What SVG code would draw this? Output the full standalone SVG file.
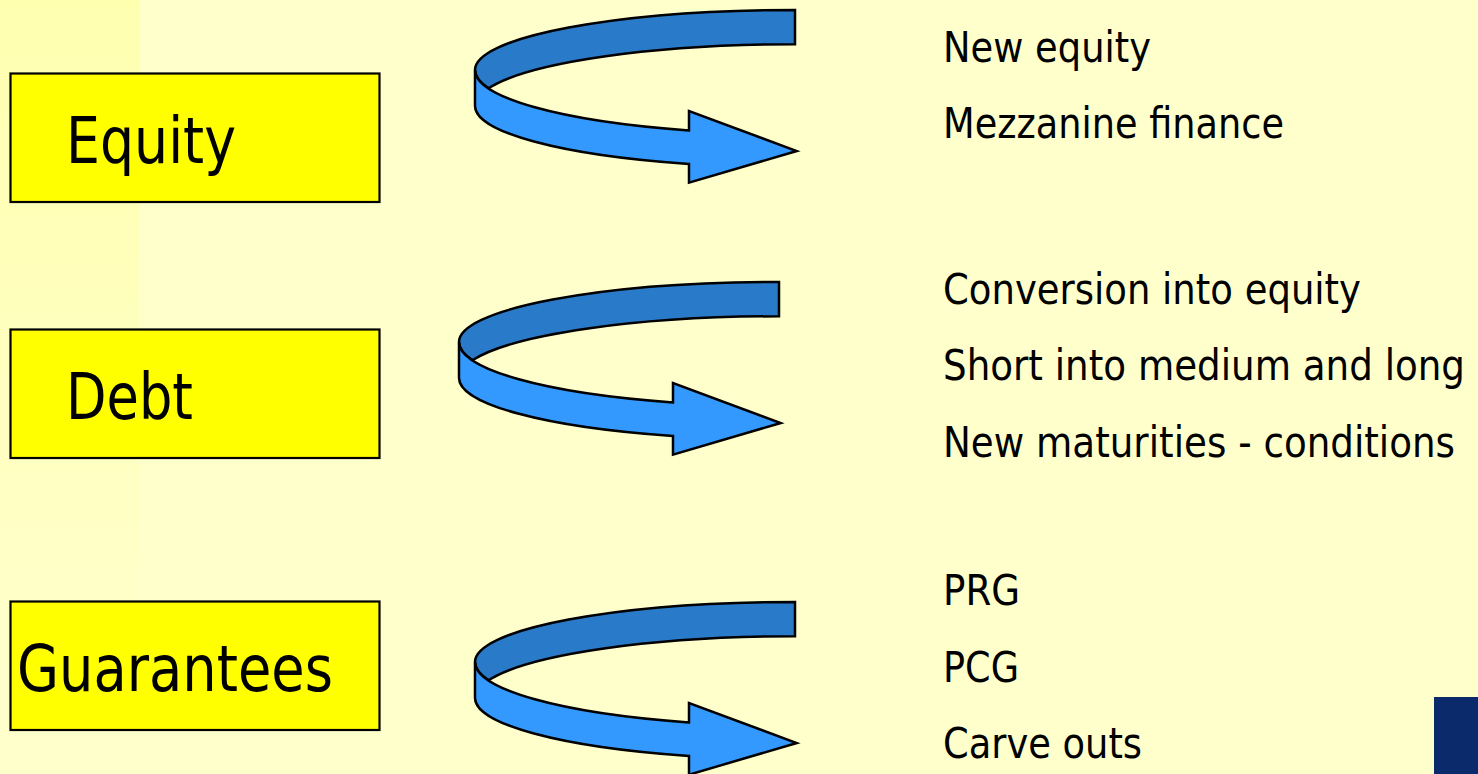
<svg xmlns="http://www.w3.org/2000/svg" width="1478" height="774" viewBox="0 0 1478 774">
  <style>
    .box { fill: #FFFF00; stroke: #000000; stroke-width: 2.2; }
    .label { font-family: "DejaVu Sans", "Liberation Sans", sans-serif; font-size: 64px; fill: #000000; }
    .item { font-family: "DejaVu Sans", "Liberation Sans", sans-serif; font-size: 42px; fill: #000000; }
    .back { fill: #2A7ACA; stroke: #000000; stroke-width: 2.5; stroke-linejoin: miter; }
    .front { fill: #3399FF; stroke: #000000; stroke-width: 2.5; stroke-linejoin: miter; }
  </style>
  <defs>
    <linearGradient id="stripFade" x1="0" y1="0" x2="0" y2="774" gradientUnits="userSpaceOnUse">
      <stop offset="0" stop-color="#FFFFB0"/>
      <stop offset="0.9" stop-color="#FFFFCC"/>
    </linearGradient>
    <!-- Curled ribbon arrow: back face (darker) and front face ending in an arrowhead -->
    <g id="curl">
      <path class="back" d="M 795,10 A 320 60 0 0 0 475,70 A 320 64 0 0 0 488.4,88.3 A 320 61.7 0 0 1 795,44.3 Z"/>
      <path class="front" d="M 475,70 L 475,106 A 320 61.5 0 0 0 689,164 L 689,182.7 L 796.7,151 L 689,111 L 689,130.4 A 320 64 0 0 1 475,70 Z"/>
    </g>
  </defs>

  <!-- background -->
  <rect x="0" y="0" width="1478" height="774" fill="#FFFFCC"/>
  <rect x="0" y="0" width="139" height="774" fill="url(#stripFade)"/>

  <!-- instrument boxes -->
  <g id="node-equity">
    <rect class="box" x="10.5" y="73.5" width="369" height="128.5"/>
    <text class="label" x="66" y="163.3" textLength="170" lengthAdjust="spacingAndGlyphs">Equity</text>
  </g>
  <g id="node-debt">
    <rect class="box" x="10.5" y="329.5" width="369" height="128.5"/>
    <text class="label" x="66" y="419.3" textLength="127" lengthAdjust="spacingAndGlyphs">Debt</text>
  </g>
  <g id="node-guarantees">
    <rect class="box" x="10.5" y="601.5" width="369" height="128.5"/>
    <text class="label" x="17" y="691" textLength="316" lengthAdjust="spacingAndGlyphs">Guarantees</text>
  </g>

  <!-- curled arrows from each box to its list of options -->
  <g id="connectors">
    <use href="#curl"/>
    <use href="#curl" transform="translate(-16,272)"/>
    <use href="#curl" transform="translate(0,592)"/>
  </g>

  <!-- option lists -->
  <g id="list-equity">
    <text class="item" x="943" y="62.3" textLength="208" lengthAdjust="spacingAndGlyphs">New equity</text>
    <text class="item" x="943" y="138.3" textLength="341" lengthAdjust="spacingAndGlyphs">Mezzanine finance</text>
  </g>
  <g id="list-debt">
    <text class="item" x="943" y="303.5" textLength="418" lengthAdjust="spacingAndGlyphs">Conversion into equity</text>
    <text class="item" x="943" y="380" textLength="522" lengthAdjust="spacingAndGlyphs">Short into medium and long</text>
    <text class="item" x="943" y="457" textLength="512" lengthAdjust="spacingAndGlyphs">New maturities - conditions</text>
  </g>
  <g id="list-guarantees">
    <text class="item" x="943" y="605" textLength="77" lengthAdjust="spacingAndGlyphs">PRG</text>
    <text class="item" x="943" y="681.7" textLength="76" lengthAdjust="spacingAndGlyphs">PCG</text>
    <text class="item" x="943" y="758.3" textLength="199" lengthAdjust="spacingAndGlyphs">Carve outs</text>
  </g>

  <!-- corner block -->
  <rect x="1434" y="697" width="44" height="77" fill="#0A2A6C"/>
</svg>
